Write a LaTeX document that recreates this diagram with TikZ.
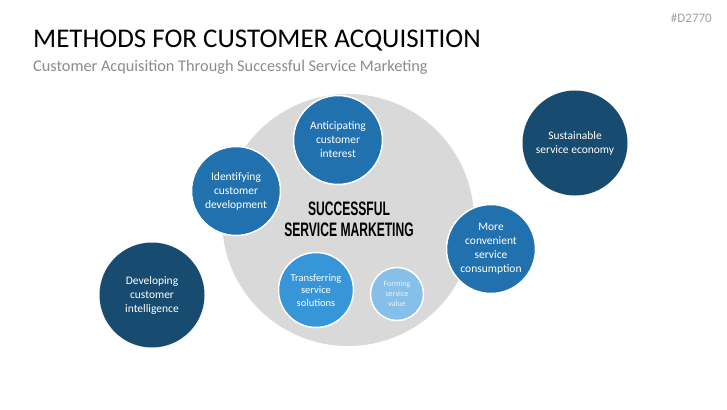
\documentclass[tikz,border=0pt]{standalone}
\usepackage{fontspec}
\setmainfont{Carlito}
\newfontfamily\headfont{Liberation Sans}
\begin{document}
\begin{tikzpicture}[x=1pt,y=1pt,
  circ/.style={circle,draw=white,line width=1.5pt,inner sep=0pt,text=white,align=center,font=\fontsize{11.5}{14}\selectfont},
  dark/.style={circ,fill=navy,draw=none},
  mid/.style={circ,fill=midblue},
]
\definecolor{navy}{HTML}{174B70}
\definecolor{midblue}{HTML}{2271AF}
\definecolor{brightblue}{HTML}{3796D8}
\definecolor{lightblue}{HTML}{86BFE8}
\definecolor{graybg}{HTML}{D9D9D9}
\definecolor{subgray}{HTML}{8C8C8C}
\useasboundingbox (0,0) rectangle (727,-409);
\fill[white] (0,0) rectangle (727,-409);
\node[anchor=base west,inner sep=0pt,font=\fontsize{27}{31}\selectfont] (title) at (33,-48) {METHODS FOR CUSTOMER ACQUISITION};
\node[anchor=base west,inner sep=0pt,text=subgray,font=\fontsize{16.3}{19}\selectfont] (sub) at (33,-72) {Customer Acquisition Through Successful Service Marketing};
\node[anchor=base east,inner sep=0pt,text=subgray!80,font=\fontsize{13}{15}\selectfont] (code) at (712,-23) {\#D2770};
\node[circle,fill=graybg,minimum size=252pt,inner sep=0pt] (core) at (348,-220) {};
\node[align=center,inner sep=0pt,font=\headfont\bfseries\fontsize{19.5}{21}\selectfont] (center) at (349,-219) {\scalebox{0.62}[1]{SUCCESSFUL}\\\scalebox{0.62}[1]{SERVICE MARKETING}};
\node[mid,minimum size=89pt] (antic) at (338,-140) {Anticipating\\customer\\interest};
\node[mid,minimum size=89pt] (ident) at (236,-191) {Identifying\\customer\\development};
\node[mid,minimum size=89pt] (conv) at (491,-249) {More\\convenient\\service\\consumption};
\node[circ,fill=brightblue,minimum size=75pt,font=\fontsize{10.5}{12.5}\selectfont] (trans) at (316,-290) {Transferring\\service\\solutions};
\node[circ,fill=lightblue,minimum size=53pt,text=white!85!lightblue,font=\fontsize{8}{10}\selectfont] (form) at (397,-294) {Forming\\service\\value};
\node[dark,minimum size=105pt] (devel) at (152,-295) {Developing\\customer\\intelligence};
\node[dark,minimum size=105pt] (sust) at (575,-143) {Sustainable\\service economy};
\end{tikzpicture}
\end{document}
